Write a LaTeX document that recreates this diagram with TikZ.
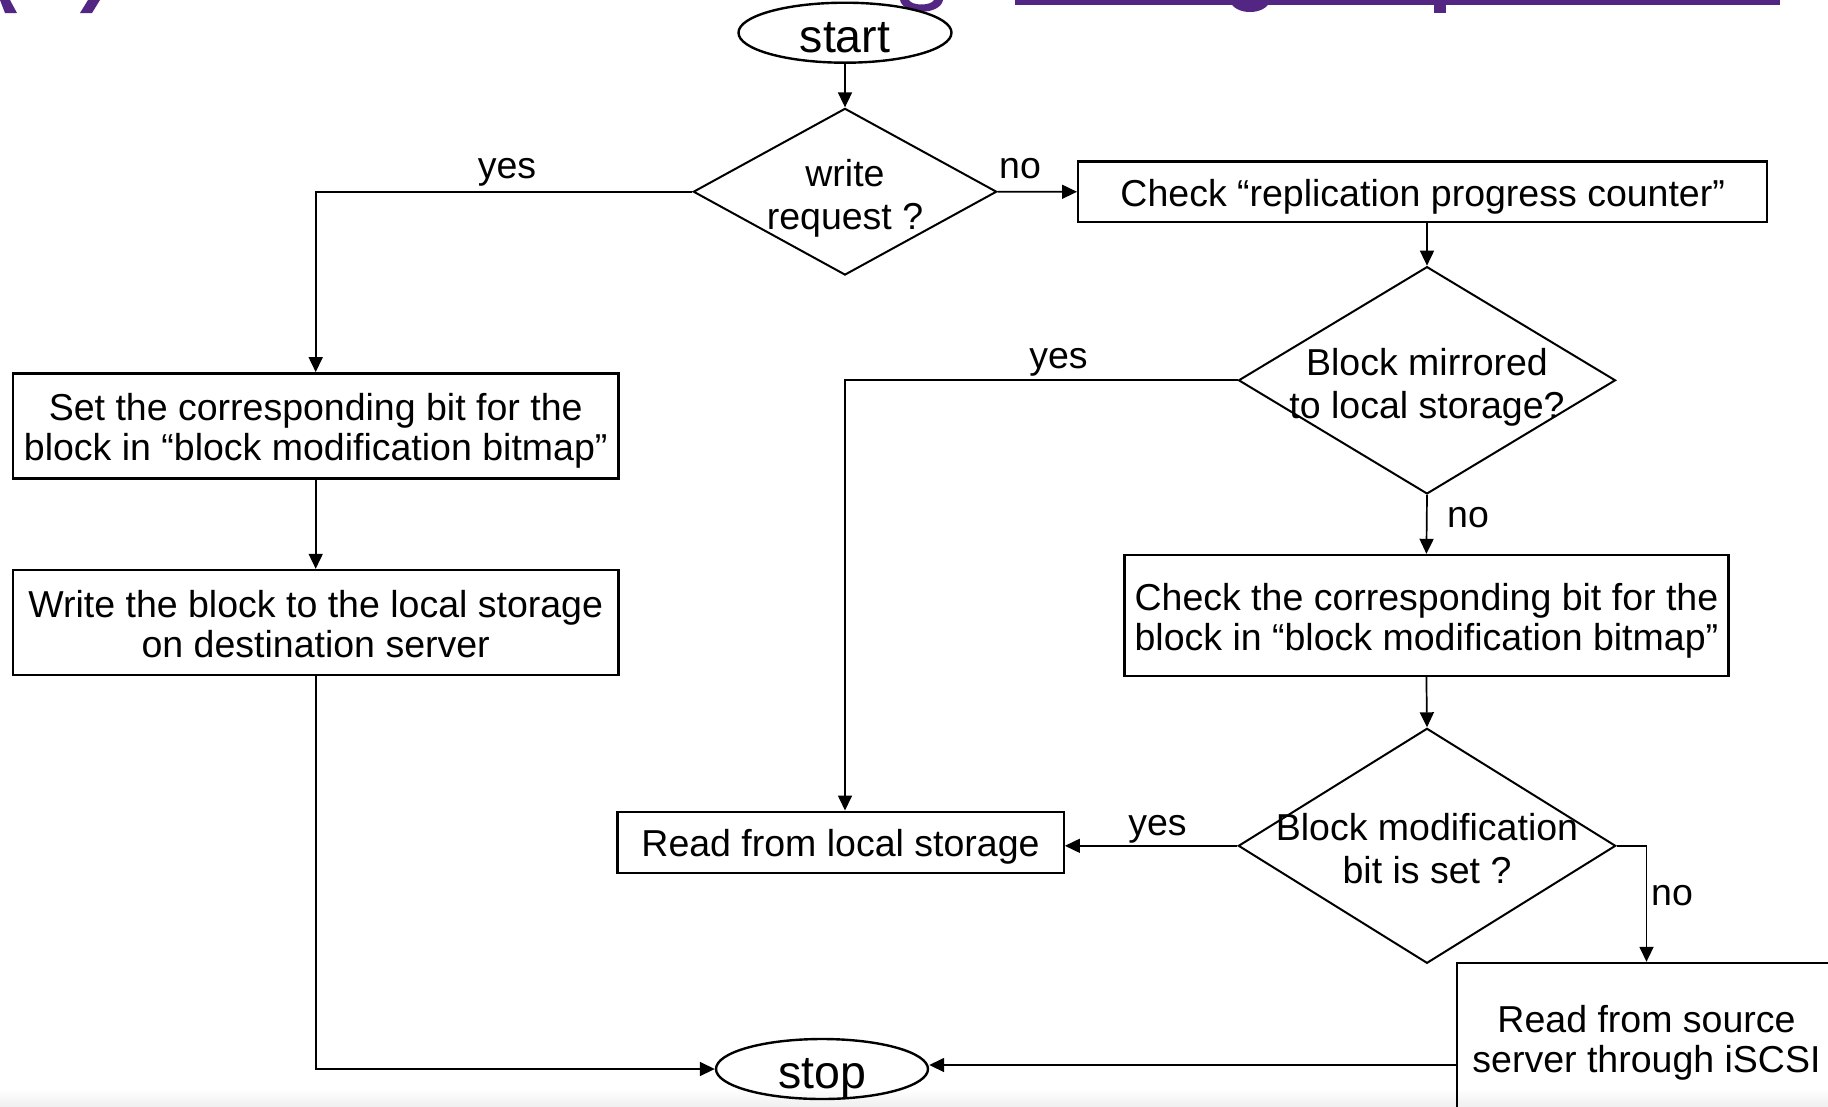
\documentclass[tikz,border=0pt]{standalone}
\usepackage{fontspec}
\setmainfont{Liberation Sans}
\usetikzlibrary{shapes.geometric,arrows.meta}
\definecolor{titlepurple}{RGB}{84,38,132}
% struts that fix the first line's ascent and the last line's descent
\newcommand\topstrut{\rule{0pt}{37pt}}
\newcommand\botstrut{\rule[-8pt]{0pt}{8pt}}
\begin{document}
\begin{tikzpicture}[x=1pt,y=-1pt,
  boxfont/.style={font=\fontsize{37.5}{40}\selectfont},
  askfont/.style={font=\fontsize{37.5}{43}\selectfont},
  terminal/.style={ellipse, draw, line width=2.4pt, inner sep=0pt,
    font=\fontsize{46.5}{50}\selectfont},
  stepbox/.style={rectangle, draw, line width=2.4pt, inner sep=0pt,
    align=center, boxfont},
  decision/.style={diamond, draw, line width=2pt, inner sep=0pt},
  asktext/.style={inner sep=0pt, align=center, askfont, yshift=-2pt},
  flow/.style={line width=1.7pt, -{Triangle[length=15pt,width=14pt]}},
  lbl/.style={inner sep=0pt, anchor=base, boxfont},
]
\useasboundingbox (0,0) rectangle (1828,1106);
\clip (0,0) rectangle (1828,1106);
\fill[white] (0,0) rectangle (1828,1106);
\shade[top color=white, bottom color=black!6] (0,1089) rectangle (1828,1106);

% lower edges of the title line above the chart
\fill[titlepurple] (0,0) -- (10,0) -- (17,13) -- (5,13) -- cycle;
\fill[titlepurple] (88,0) -- (100,0) -- (92,13) -- (80,13) -- cycle;
\fill[titlepurple] (900,0) .. controls (903,15) and (940,16) .. (943,0)
  -- (934,0) .. controls (931,6) and (912,6) .. (909,0) -- cycle;
\fill[titlepurple] (1015,0) rectangle (1780,5);
\fill[titlepurple] (1230,0) .. controls (1233,16) and (1267,16) .. (1270,0)
  -- (1261,0) .. controls (1258,7) and (1242,7) .. (1239,0) -- cycle;
\fill[titlepurple] (1434,0) rectangle (1446,13);

% terminals
\node[terminal, minimum width=213pt, minimum height=60pt] (start) at (845,32.7)
  {\raisebox{-20pt}[0pt][0pt]{start}};
\node[terminal, minimum width=212pt, minimum height=60pt] (stop) at (822,1069)
  {\raisebox{-19pt}[0pt][0pt]{stop}};

% decisions
\node[decision, minimum width=303.4pt, minimum height=166.7pt] (wreq) at (845,191.7) {};
\node[asktext] (wreqT) at (wreq) {\topstrut write\\request ?\botstrut};
\node[decision, minimum width=377pt, minimum height=227.3pt] (mir) at (1427,380.3) {};
\node[asktext] (mirT) at (mir) {\topstrut Block mirrored\\to local storage?\botstrut};
\node[decision, minimum width=377.4pt, minimum height=235pt] (mod) at (1427,845.8) {};
\node[asktext] (modT) at (mod) {\topstrut Block modification\\bit is set ?\botstrut};

% process steps
\node[stepbox, minimum width=689pt, minimum height=60.3pt] (chk) at (1422.7,191.8)
  {\topstrut Check “replication progress counter”\botstrut};
\node[stepbox, minimum width=605.4pt, minimum height=105pt] (setbit) at (315.7,425.8)
  {\topstrut Set the corresponding bit for the\\block in “block modification bitmap”\botstrut};
\node[stepbox, minimum width=605.4pt, minimum height=105pt] (wr) at (315.7,622.5)
  {\topstrut Write the block to the local storage\\on destination server\botstrut};
\node[stepbox, minimum width=604pt, minimum height=121pt] (cbit) at (1426.4,615.5)
  {\topstrut Check the corresponding bit for the\\block in “block modification bitmap”\botstrut};
\node[stepbox, minimum width=446.4pt, minimum height=61pt] (rdl) at (840.5,842.2)
  {\topstrut Read from local storage\botstrut};
\node[stepbox, minimum width=379pt, minimum height=149pt] (src) at (1646.5,1037.5)
  {\topstrut Read from source\\server through iSCSI\botstrut};

% branch labels
\node[lbl] (yesA) at (507,178) {yes};
\node[lbl] (noA) at (1020,178) {no};
\node[lbl] (yesB) at (1058.5,368) {yes};
\node[lbl, anchor=base west] (noB) at (1447,527) {no};
\node[lbl] (yesC) at (1157.5,835) {yes};
\node[lbl, anchor=base west] (noC) at (1651,905) {no};

% connectors
\draw[flow] (start.south) -- (wreq.north);
\draw[flow] (wreq.west) -| (setbit.north);
\draw[flow] (wreq.east) -- (chk.west);
\draw[flow] (chk.south -| mir.north) -- (mir.north);
\draw[flow] (mir.west) -| ([xshift=4.5pt]rdl.north);
\draw[flow] (mir.south) -- (cbit.north);
\draw[flow] (setbit.south) -- (wr.north);
\draw[flow] (cbit.south) -- (mod.north);
\draw[flow] (mod.west) -- (mod.west -| rdl.east);
\draw[flow] (mod.east) -| (src.north);
\draw[flow] (wr.south) |- (stop.west);
\coordinate (stopin) at ([yshift=4pt]stop.east);
\draw[flow] (stopin -| src.west) -- (stopin);
\end{tikzpicture}
\end{document}
